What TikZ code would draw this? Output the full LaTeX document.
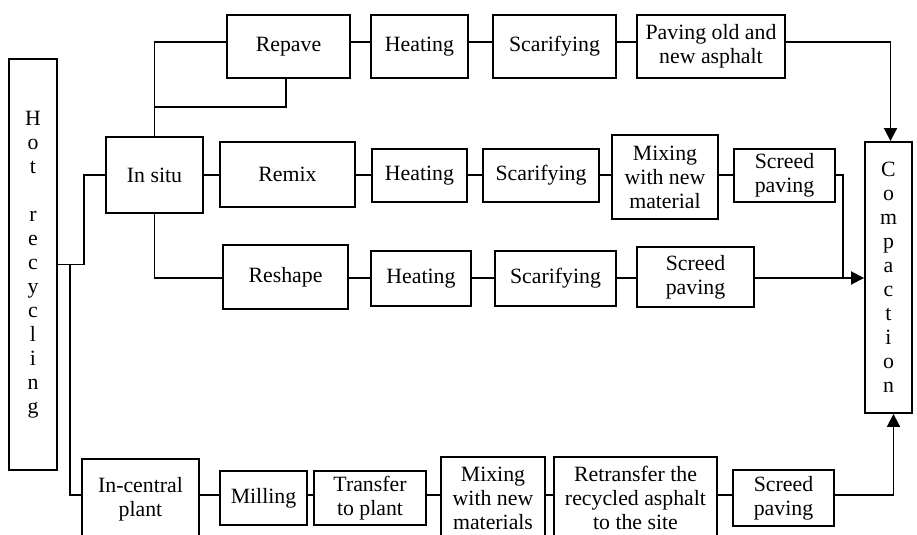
\documentclass[tikz,border=0pt]{standalone}
\usepackage{fontspec}
\setmainfont{Liberation Serif}
\usetikzlibrary{arrows.meta}
% box given by its corners (x1,y1)-(x2,y2) in drawing units
\newcommand\boxat[6]{%
  \node[blk, minimum width={(#4-#2)*0.5pt}, minimum height={(#5-#3)*0.5pt}]
    (#1) at ({(#2+#4)/2},{(#3+#5)/2}) {#6};}
\begin{document}
\begin{tikzpicture}[x=0.5pt,y=-0.5pt,
  blk/.style={draw, line width=0.95pt, inner sep=0pt, align=center,
    font=\fontsize{10.9}{12}\selectfont},
  link/.style={line width=0.95pt},
  flow/.style={link, -{Triangle[length=6.5pt,width=6.5pt]}}]
\useasboundingbox (0,0) rectangle (917,535);
\clip (-2,-2) rectangle (919,535);

% row levels and bends
\coordinate (r1) at (0,42);
\coordinate (r2) at (0,175);
\coordinate (r3) at (0,278);
\coordinate (r4) at (0,495);
\coordinate (j2) at (843,278);
\coordinate (lp) at (286,107);

% side boxes
\boxat{hot}{9}{59}{57}{470}{H\\o\\t\\\mbox{}\\r\\e\\c\\y\\c\\l\\i\\n\\g}
\boxat{comp}{865}{142}{912}{413}{C\\o\\m\\p\\a\\c\\t\\i\\o\\n}

% in situ branch
\boxat{insitu}{106}{137}{203}{213}{In situ}
\boxat{repave}{227}{15}{350}{78}{Repave}
\boxat{heat1}{371}{15}{468}{78}{Heating}
\boxat{scar1}{493}{15}{616}{78}{Scarifying}
\boxat{pave1}{637}{15}{785}{78}{Paving old and\\new asphalt}

\boxat{remix}{220}{142}{355}{207}{Remix}
\boxat{heat2}{372}{149}{467}{202}{Heating}
\boxat{scar2}{483}{149}{599}{202}{Scarifying}
\boxat{mix2}{612}{135}{718}{219}{Mixing\\with new\\material}
\boxat{screed2}{734}{149}{835}{202}{Screed\\paving}

\boxat{reshape}{223}{245}{348}{309}{Reshape}
\boxat{heat3}{371}{251}{471}{306}{Heating}
\boxat{scar3}{495}{251}{616}{306}{Scarifying}
\boxat{screed3}{637}{247}{754}{307}{Screed\\paving}

% central plant branch
\boxat{incentral}{82}{459}{199}{539}{In-central\\plant}
\boxat{milling}{220}{471}{307}{525}{Milling}
\boxat{transfer}{314}{471}{426}{525}{Transfer\\to plant}
\boxat{mix4}{441}{457}{545}{539}{Mixing\\with new\\materials}
\boxat{retrans}{554}{457}{717}{539}{Retransfer the\\recycled asphalt\\to the site}
\boxat{screed4}{733}{470}{834}{526}{Screed\\paving}

% branching from hot recycling
\draw[link] (hot.east) -- ++(26,0) |- (insitu.west |- r2);
\draw[link] (hot.east) -- ++(12,0) |- (incentral.west |- r4);

% branching from in situ
\draw[link] (insitu.north) |- (repave.west |- r1);
\draw[link] (lp |- repave.south) -- (lp) -| (insitu.north);
\draw[link] (insitu.east |- r2) -- (remix.west |- r2);
\draw[link] (insitu.south) |- (reshape.west |- r3);

% process chains
\foreach \a/\b in {repave/heat1, heat1/scar1, scar1/pave1}
  \draw[link] (\a.east |- r1) -- (\b.west |- r1);
\foreach \a/\b in {remix/heat2, heat2/scar2, scar2/mix2, mix2/screed2}
  \draw[link] (\a.east |- r2) -- (\b.west |- r2);
\foreach \a/\b in {reshape/heat3, heat3/scar3, scar3/screed3}
  \draw[link] (\a.east |- r3) -- (\b.west |- r3);
\foreach \a/\b in {incentral/milling, milling/transfer, transfer/mix4, mix4/retrans, retrans/screed4}
  \draw[link] (\a.east |- r4) -- (\b.west |- r4);

% into compaction
\draw[flow] (pave1.east |- r1) -| ([xshift=1pt]comp.north);
\draw[link] (screed2.east |- r2) -| (j2);
\draw[flow] (screed3.east |- r3) -- (comp.west |- r3);
\draw[flow] (screed4.east |- r4) -| ([xshift=2.5pt]comp.south);
\end{tikzpicture}
\end{document}
